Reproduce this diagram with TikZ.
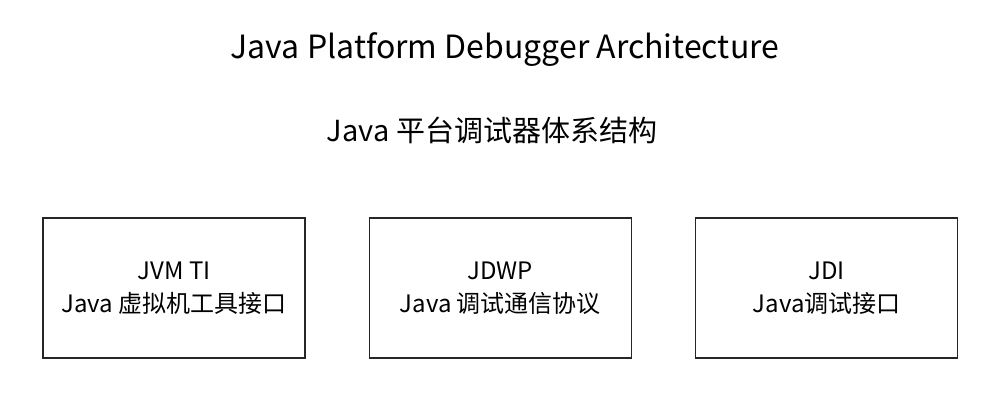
\documentclass[tikz,border=0pt]{standalone}
\usepackage{fontspec}
\setmainfont{Noto Sans CJK SC}
\usetikzlibrary{positioning}
\tikzset{
  modbox/.style={rectangle, draw=black!85, line width=1.3pt, minimum width=262pt,
                 minimum height=140pt, align=center, font=\fontsize{24}{33}\selectfont},
  heading/.style={font=\fontsize{#1}{32}\selectfont},
}
\begin{document}
\begin{tikzpicture}[x=1pt, y=-1pt, node distance=63pt]
    \useasboundingbox (0,0) rectangle (1002,405);
    \node[heading=32] (title) at (505,50) {Java Platform Debugger Architecture};
    \node[heading=29] (subtitle) at (492,130) {Java 平台调试器体系结构};
    \node[modbox] (jvmti) at (174,288) {JVM TI\\Java 虚拟机工具接口};
    \node[modbox, right=of jvmti] (jdwp) {JDWP\\Java 调试通信协议};
    \node[modbox, right=of jdwp] (jdi) {JDI\\Java调试接口};
  \end{tikzpicture}
\end{document}
